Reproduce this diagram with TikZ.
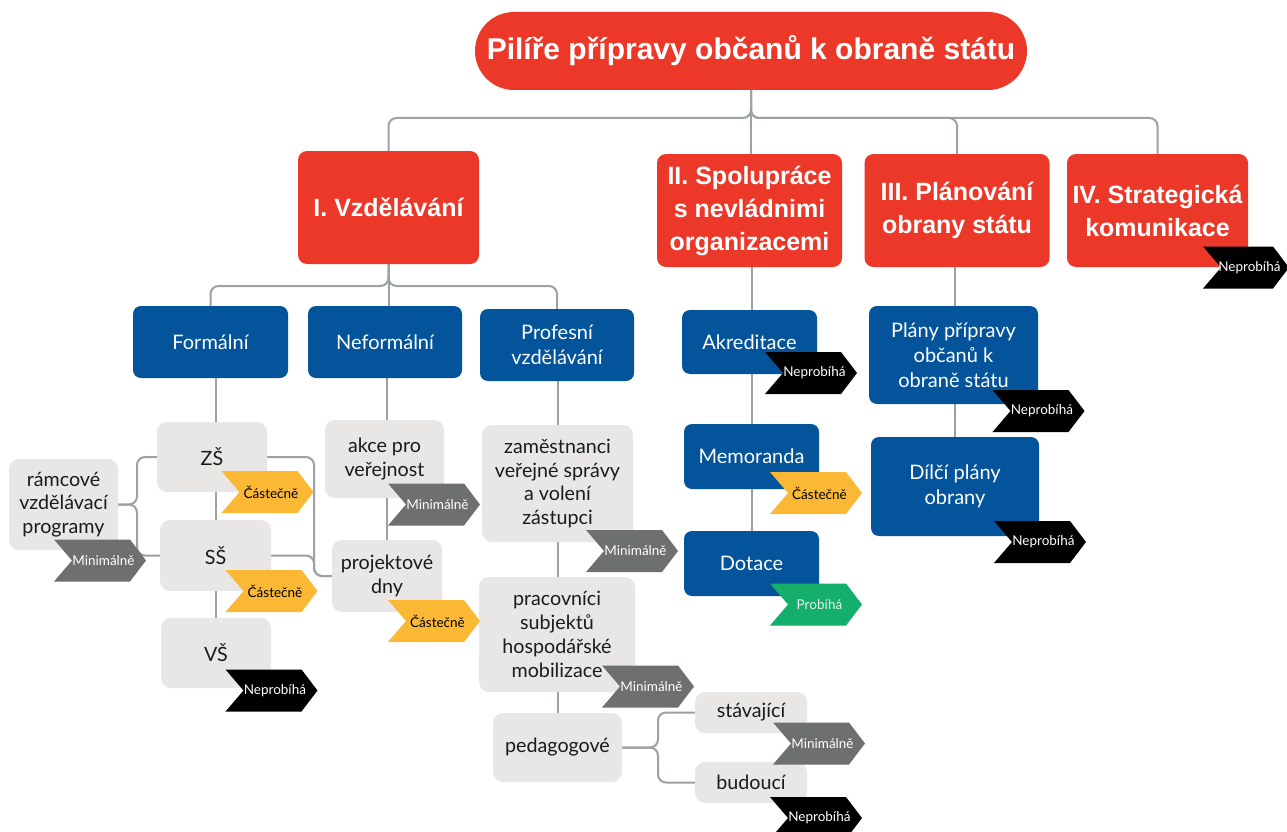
\documentclass[tikz,border=0pt]{standalone}
\usepackage{fontspec}
\setmainfont{Lato}
\newfontfamily\headfont{Liberation Sans}
\definecolor{cred}{HTML}{EC3828}
\definecolor{cblue}{HTML}{03549A}
\definecolor{cgray}{HTML}{E8E7E6}
\definecolor{ctext}{HTML}{1B1B1B}
\definecolor{tgray}{HTML}{6D706F}
\definecolor{tyellow}{HTML}{FBB834}
\definecolor{tgreen}{HTML}{14AF6A}
\definecolor{cline}{HTML}{9BA1A4}
\pgfdeclarelayer{bg}
\pgfsetlayers{bg,main}
\tikzset{
  sz/.style 2 args={minimum width=#1pt, minimum height=#2pt},
  titlebox/.style={fill=cred, text=white, rounded corners=39pt, inner sep=0pt,
    font=\headfont\bfseries\fontsize{30}{36}\selectfont},
  redbox/.style={fill=cred, text=white, rounded corners=9pt, align=center, inner sep=0pt,
    font=\headfont\bfseries\fontsize{25}{33}\selectfont},
  bluebox/.style={fill=cblue, text=white, rounded corners=8pt, align=center, inner sep=0pt,
    font=\fontsize{20}{25}\selectfont},
  graybox/.style={fill=cgray, text=ctext, rounded corners=10pt, align=center, inner sep=0pt,
    font=\fontsize{19.7}{23.8}\selectfont},
  tagbox/.style={shape=rectangle, minimum width=92pt, minimum height=42pt, inner sep=0pt,
    font=\fontsize{13.5}{15}\selectfont, execute at begin node={\kern7pt},
    path picture={\fill[#1] (path picture bounding box.north west)
      -- ([xshift=-16pt]path picture bounding box.north east)
      -- (path picture bounding box.east)
      -- ([xshift=-16pt]path picture bounding box.south east)
      -- (path picture bounding box.south west)
      -- ([xshift=18pt]path picture bounding box.west) -- cycle;}},
  tmin/.style={tagbox=tgray, text=white},
  tpart/.style={tagbox=tyellow, text=black},
  tnot/.style={tagbox=black, text=white},
  tyes/.style={tagbox=tgreen, text=white!88!tgreen},
  conn/.style={draw=cline, line width=2pt, rounded corners=8pt},
}
\begin{document}
\begin{tikzpicture}[x=1pt, y=-1pt]
\useasboundingbox (0,0) rectangle (1287,832);

% title and pillars
\node[titlebox, sz={552}{78}] (title) at (751,51) {Pilíře přípravy občanů k obraně státu};
\node[redbox, sz={181}{113}] (edu) at (388.5,207.5) {I. Vzdělávání};
\node[redbox, sz={185}{113}] (coop) at (749.5,210.5) {II. Spolupráce\\s nevládnimi\\organizacemi};
\node[redbox, sz={185}{113}] (plan) at (957,210.5) {III. Plánování\\obrany státu};
\node[redbox, sz={181}{113}] (comm) at (1157.5,210.5) {IV. Strategická\\komunikace};

% blue boxes
\node[bluebox, sz={155}{72}] (formal) at (210.5,342) {Formální};
\node[bluebox, sz={154}{72}] (nonformal) at (385,342) {Neformální};
\node[bluebox, sz={154}{72}] (prof) at (557,345) {Profesní\\vzdělávání};
\node[bluebox, sz={135}{64}] (akred) at (749.5,342) {Akreditace};
\node[bluebox, sz={135}{65}] (memo) at (751.5,456.5) {Memoranda};
\node[bluebox, sz={135}{65}] (dot) at (751.5,563.5) {Dotace};
\node[bluebox, sz={169}{98}] (plany) at (953.5,355) {Plány přípravy\\občanů k\\obraně státu};
\node[bluebox, sz={168}{99}] (dilci) at (955,486.5) {Dílčí plány\\obrany};

% gray boxes
\node[graybox, sz={109}{91}] (rvp) at (63.5,504.5) {rámcové\\vzdělávací\\programy};
\node[graybox, sz={110}{70}] (zs) at (212,457) {ZŠ};
\node[graybox, sz={111}{71}] (ss) at (215.5,555.5) {SŠ};
\node[graybox, sz={110}{70}] (vs) at (216,653) {VŠ};
\node[graybox, sz={119}{78}] (akce) at (384.5,459) {akce pro\\veřejnost};
\node[graybox, sz={110}{72}] (projdny) at (387,576) {projektové\\dny};
\node[graybox, sz={151}{117}] (zam) at (557.5,483.5) {zaměstnanci\\veřejné správy\\a volení\\zástupci};
\node[graybox, sz={156}{115}] (prac) at (557,634.5) {pracovníci\\subjektů\\hospodářské\\mobilizace};
\node[graybox, sz={129}{69}] (ped) at (557.5,747.5) {pedagogové};
\node[graybox, sz={112}{41}] (stav) at (751,712.5) {stávající};
\node[graybox, sz={112}{41}] (bud) at (751,782.5) {budoucí};

% status tags
\node[tmin] (trvp) at (100,560.5) {Minimálně};
\node[tpart] (tzs) at (267.5,492) {Částečně};
\node[tpart] (tss) at (271.5,591) {Částečně};
\node[tnot] (tvs) at (271.5,690.5) {Neprobíhá};
\node[tmin] (takce) at (434,504.5) {Minimálně};
\node[tpart] (tproj) at (434,621) {Částečně};
\node[tmin] (tzam) at (632,551) {Minimálně};
\node[tmin] (tprac) at (648,686.5) {Minimálně};
\node[tmin] (tstav) at (819,743.5) {Minimálně};
\node[tnot] (tbud) at (816,818) {Neprobíhá};
\node[tnot] (takred) at (811,373) {Neprobíhá};
\node[tpart] (tmemo) at (816,493) {Částečně};
\node[tyes] (tdot) at (816,604.5) {Probíhá};
\node[tnot] (tplany) at (1038.5,411) {Neprobíhá};
\node[tnot] (tdilci) at (1040,542) {Neprobíhá};
\node[tnot, minimum width=86pt] (tcomm) at (1246,267.5) {Neprobíhá};

% background and connectors
\begin{pgfonlayer}{bg}
\fill[white] (0,0) rectangle (1287,832);
\coordinate (jT) at (751,118);
\draw[conn] (title.south) -- (jT) -| (edu.north);
\draw[conn] (title.south) -- (jT) -| (plan.north);
\draw[conn] (title.south) -- (jT) -| (comm.north);
\draw[conn] (title.south) -- (title.south |- coop.north);
\coordinate (jI) at (388.5,286);
\draw[conn] (edu.south) -- (jI) -| (formal.north);
\draw[conn] (edu.south) -- (jI) -| (prof.north);
\draw[conn] (edu.south) -- (edu.south |- nonformal.north);
\draw[conn] (vs.north |- formal.south) -- (vs.north);
\draw[conn] (projdny.north |- nonformal.south) -- (projdny.north);
\draw[conn] (ped.north |- prof.south) -- (ped.north);
\draw[conn] (dot.north |- coop.south) -- (dot.north);
\draw[conn] (dilci.north |- plan.south) -- (dilci.north);
\coordinate (jR) at (137,504.5);
\draw[conn] (rvp.east) -- (jR) |- (zs.west);
\draw[conn] (rvp.east) -- (jR) |- (ss.west);
\coordinate (jP) at (314,576);
\draw[conn] (zs.east) -| (jP) -- (projdny.west);
\draw[conn] (ss.east) -| (jP) -- (projdny.west);
\coordinate (jD) at (658,747.5);
\draw[conn] (ped.east) -- (jD) |- (stav.west);
\draw[conn] (ped.east) -- (jD) |- (bud.west);
\end{pgfonlayer}
\end{tikzpicture}
\end{document}
